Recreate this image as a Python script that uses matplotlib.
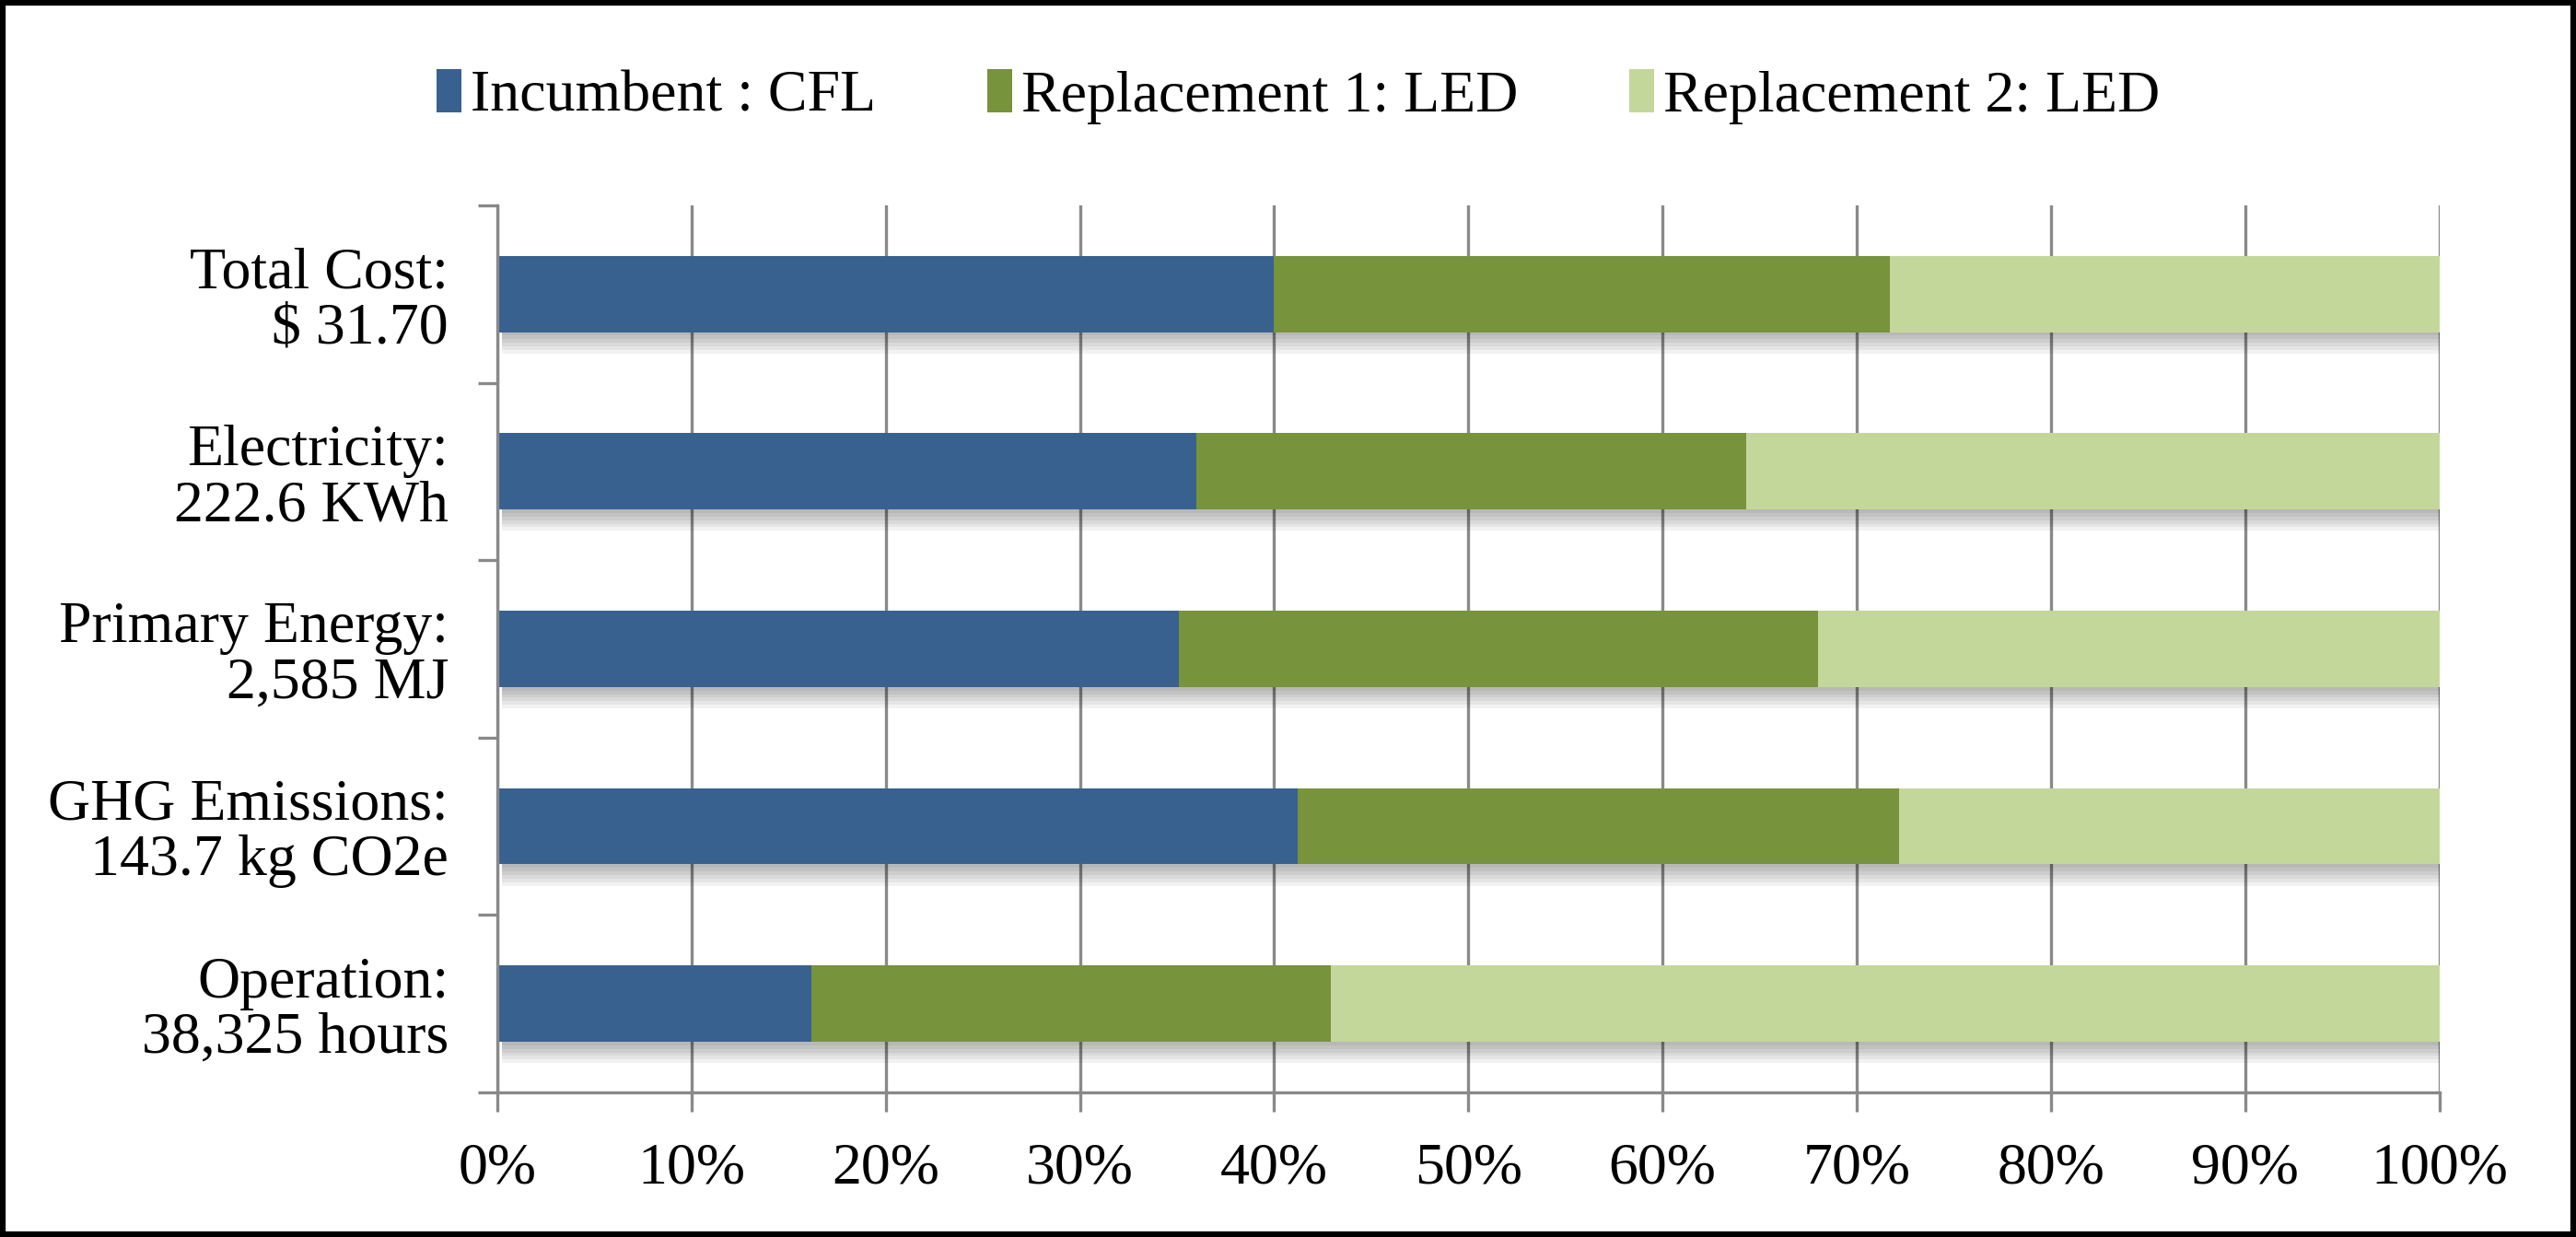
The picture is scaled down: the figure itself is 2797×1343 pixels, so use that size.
import matplotlib
matplotlib.use("Agg")
import matplotlib.pyplot as plt
from matplotlib.patches import Rectangle
from matplotlib.ticker import FixedLocator, PercentFormatter
import numpy as np

categories = ["Total Cost:\n$ 31.70", "Electricity:\n222.6 KWh", "Primary Energy:\n2,585 MJ",
              "GHG Emissions:\n143.7 kg CO2e", "Operation:\n38,325 hours"]
incumbent_cfl = [40.0, 36.0, 35.1, 41.2, 16.2]
replacement1_led = [31.7, 28.3, 32.9, 31.0, 26.7]
replacement2_led = [28.3, 35.7, 32.0, 27.8, 57.1]
series_names = ["Incumbent : CFL", "Replacement 1: LED", "Replacement 2: LED"]
colors = ["#386190", "#77933C", "#C4D79B"]
x_ticks = [0, 10, 20, 30, 40, 50, 60, 70, 80, 90, 100]

plt.rcParams['font.family'] = ['Liberation Serif', 'DejaVu Serif']
grid_col = "#898989"
fs = 46

fig = plt.figure(figsize=(27.97, 13.43), dpi=100)
ax = fig.add_axes([0.193, 0.117, 0.754, 0.717])

y = np.arange(len(categories))
h = 0.43
series = [incumbent_cfl, replacement1_led, replacement2_led]

# drop shadows
totals = np.array(incumbent_cfl) + np.array(replacement1_led) + np.array(replacement2_led)
for k in range(1, 7):
    ax.barh(y + k * 0.02, totals + k * 0.015, left=0.25, height=h, color="black",
            alpha=0.05, zorder=2, linewidth=0)

left = np.zeros(len(categories))
for vals, name, c in zip(series, series_names, colors):
    ax.barh(y, vals, left=left, height=h, color=c, label=name, zorder=3, linewidth=0)
    left += np.array(vals)

ax.set_xlim(0, 100)
ax.set_ylim(len(categories) - 0.5, -0.5)
ax.xaxis.set_major_locator(FixedLocator(x_ticks))
ax.xaxis.set_major_formatter(PercentFormatter(decimals=0))
ax.set_yticks(y)
ax.set_yticklabels(categories, ha="right", multialignment="right", linespacing=1.05)
ax.yaxis.set_minor_locator(FixedLocator(np.arange(-0.5, len(categories), 1.0)))

lw = 2.4
ax.grid(axis="x", color=grid_col, linewidth=lw, zorder=1)
ax.set_axisbelow(True)
for s in ["top", "right"]:
    ax.spines[s].set_visible(False)
for s in ["left", "bottom"]:
    ax.spines[s].set_color(grid_col)
    ax.spines[s].set_linewidth(lw)
    ax.spines[s].set_zorder(4)

ax.tick_params(axis="x", which="major", length=15, width=lw, color=grid_col,
               labelsize=fs, pad=24)
ax.tick_params(axis="y", which="major", length=0, labelsize=fs, pad=38)
ax.tick_params(axis="y", which="minor", length=15, width=lw, color=grid_col)

fig.legend(loc="center", bbox_to_anchor=(0.504, 0.922), ncol=3, frameon=False,
           fontsize=fs, handlelength=0.42, handleheight=0.75, handletextpad=0.15,
           columnspacing=1.9)

fig.patches.append(Rectangle((0.001, 0.002), 0.998, 0.996, transform=fig.transFigure,
                             fill=False, edgecolor="black", linewidth=4.5))

fig.savefig("out.png", dpi=100)
